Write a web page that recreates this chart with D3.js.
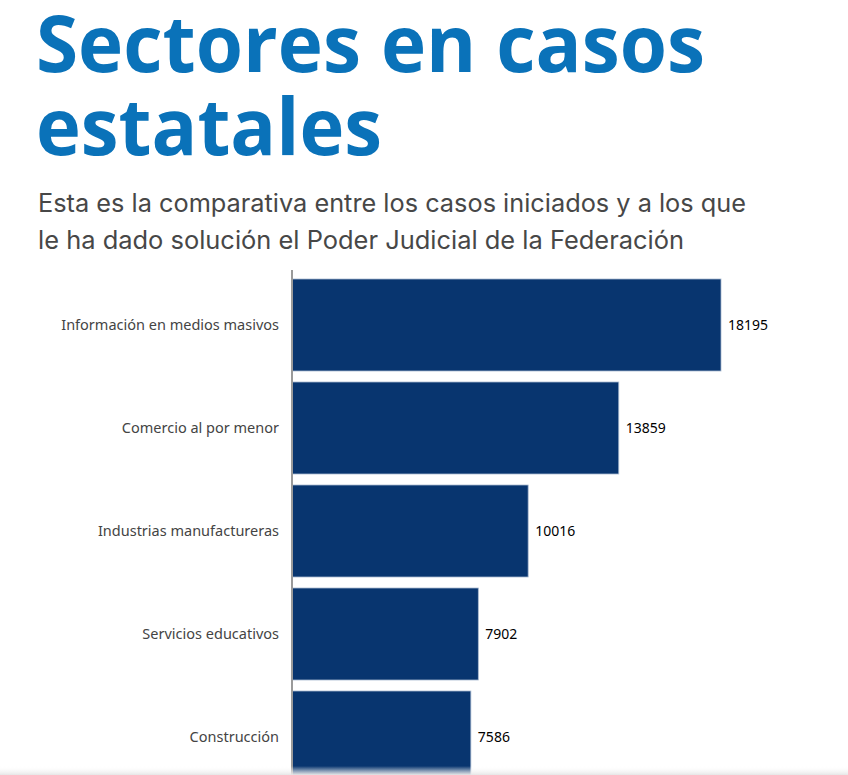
<!DOCTYPE html>
<html>
<head>
<meta charset="utf-8">
<script src="https://cdn.jsdelivr.net/npm/d3@7"></script>
<style>
  html, body { margin: 0; padding: 0; background: #fff; overflow: hidden; }
  svg { display: block; }
</style>
</head>
<body>
<div id="chart"></div>
<script>
var sectors = ['Información en medios masivos', 'Comercio al por menor', 'Industrias manufactureras',
               'Servicios educativos', 'Construcción'];
var cases = [18195, 13859, 10016, 7902, 7586];
var titleLines = ['Sectores en casos', 'estatales'];
var subtitleLines = ['Esta es la comparativa entre los casos iniciados y a los que',
                     'le ha dado solución el Poder Judicial de la Federación'];

var fullWidth = 848, fullHeight = 775;
var margin = {top: 279, left: 292};

var svg = d3.select('#chart').append('svg')
    .attr('width', fullWidth)
    .attr('height', fullHeight);

// stretch a text to a target width (reference fonts are not installed)
function fit(sel, w) {
    sel.each(function() {
        var len = this.getComputedTextLength();
        if (Math.abs(len - w) > 2) d3.select(this).attr('textLength', w).attr('lengthAdjust', 'spacingAndGlyphs');
    });
}

// Title
var titleW = [669, 346];
svg.selectAll('.title').data(titleLines).enter().append('text')
    .attr('class', 'title')
    .attr('x', 36)
    .attr('y', function(d, i) { return 72 + i * 83; })
    .attr('fill', '#0a72b9')
    .style('font-family', '"Open Sans", sans-serif')
    .style('font-weight', 700)
    .style('font-size', '79px')
    .text(function(d) { return d; })
    .each(function(d, i) { fit(d3.select(this), titleW[i]); });

var subW = [708, 646];
svg.selectAll('.subtitle').data(subtitleLines).enter().append('text')
    .attr('class', 'subtitle')
    .attr('x', 38)
    .attr('y', function(d, i) { return 212 + i * 37; })
    .attr('fill', '#474747')
    .style('font-family', 'Inter, "Noto Sans", sans-serif')
    .style('font-size', '25px')
    .text(function(d) { return d; })
    .each(function(d, i) { fit(d3.select(this), subW[i]); });

// Scales: step 103px, bars 92px tall
var x = d3.scaleLinear().domain([0, 18195]).range([0, 429]);
var y = d3.scaleBand().domain(sectors).range([0, 504]).paddingInner(11 / 103).paddingOuter(0);

var g = svg.append('g')
    .attr('transform', 'translate(' + margin.left + ',' + margin.top + ')');

g.selectAll('.bar').data(cases).enter().append('rect')
    .attr('class', 'bar')
    .attr('x', 0)
    .attr('y', function(d, i) { return y(sectors[i]); })
    .attr('width', function(d) { return x(d); })
    .attr('height', y.bandwidth())
    .attr('fill', '#08356f')
    .attr('stroke', '#a9bad0')
    .attr('stroke-width', 0.8);

g.selectAll('.value').data(cases).enter().append('text')
    .attr('class', 'value')
    .attr('x', function(d) { return x(d) + 7; })
    .attr('y', function(d, i) { return y(sectors[i]) + y.bandwidth() / 2; })
    .attr('dy', '0.35em')
    .attr('fill', '#000')
    .style('font-family', '"Noto Sans", sans-serif')
    .style('font-size', '14px')
    .text(function(d) { return d; });

// Y axis (labels only, plus the vertical line)
var yAxis = d3.axisLeft(y).tickSize(0).tickPadding(13);
var ax = g.append('g').call(yAxis);
ax.select('.domain').remove();
ax.selectAll('text')
    .attr('fill', '#444')
    .style('font-family', '"Noto Sans", sans-serif')
    .style('font-size', '14.5px');

svg.append('line')
    .attr('x1', margin.left).attr('x2', margin.left)
    .attr('y1', 270).attr('y2', fullHeight)
    .attr('stroke', '#9a9a9a')
    .attr('stroke-width', 2);

// faint shade at the bottom edge
var grad = svg.append('defs').append('linearGradient')
    .attr('id', 'shade').attr('x1', 0).attr('x2', 0).attr('y1', 0).attr('y2', 1);
grad.append('stop').attr('offset', 0).attr('stop-color', '#fff').attr('stop-opacity', 0);
grad.append('stop').attr('offset', 1).attr('stop-color', '#e6e6e6').attr('stop-opacity', 1);
svg.append('rect')
    .attr('x', 0).attr('y', 766).attr('width', fullWidth).attr('height', 9)
    .attr('fill', 'url(#shade)');
</script>
</body>
</html>
